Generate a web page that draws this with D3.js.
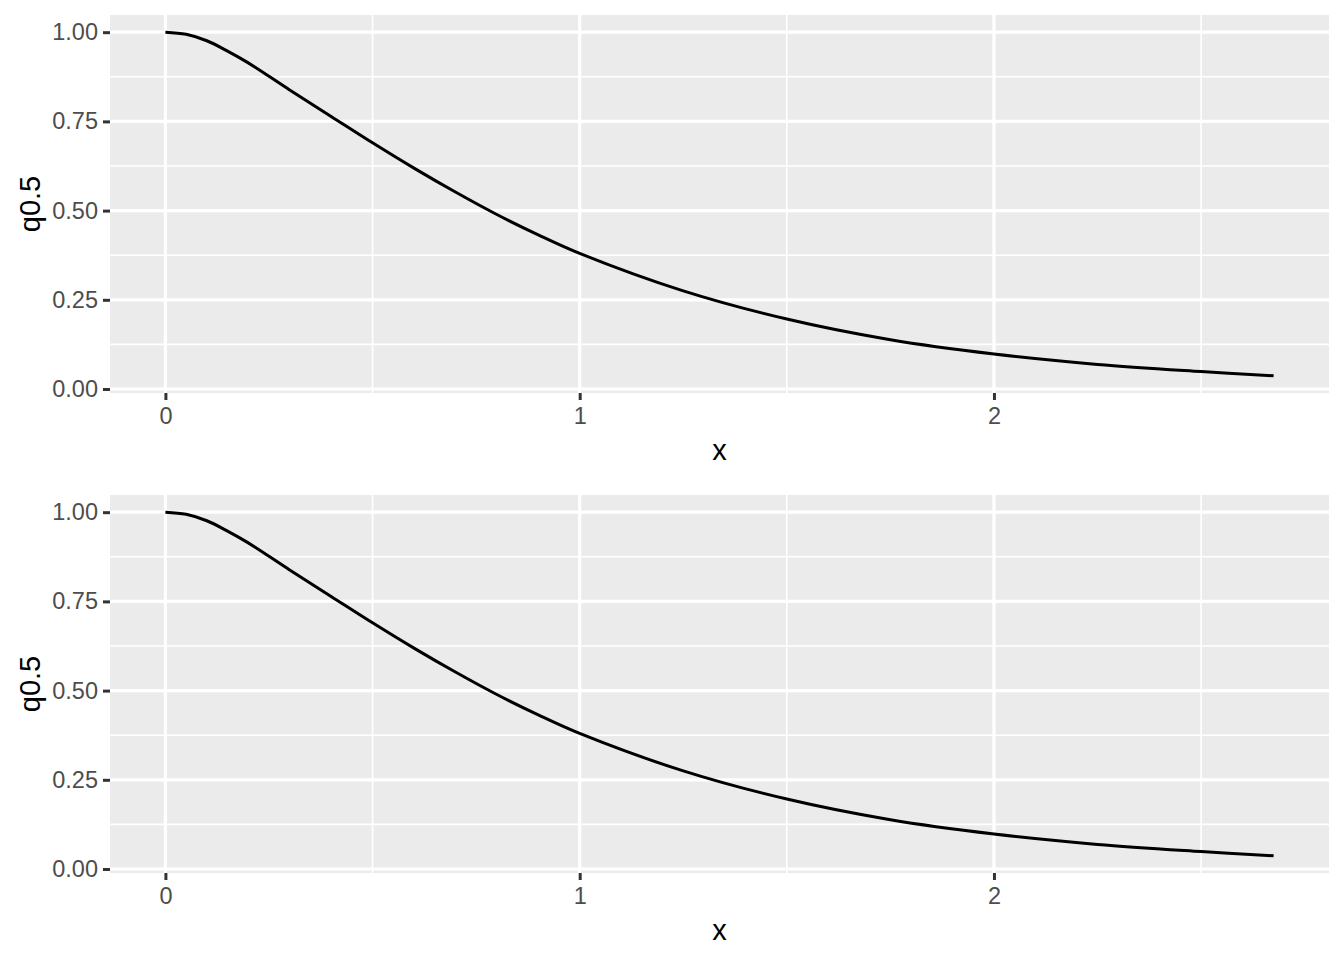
<!DOCTYPE html>
<html>
<head>
<meta charset="utf-8">
<script src="https://cdn.jsdelivr.net/npm/d3@7"></script>
<style>
  body { margin: 0; background: #fff; }
  svg { display: block; font-family: "Liberation Sans", Arial, sans-serif; }
</style>
</head>
<body>
<svg id="chart" width="1344" height="960"></svg>
<script>
// values
const xs = [0, 0.05, 0.1, 0.15, 0.2, 0.3, 0.4, 0.5, 0.6, 0.7, 0.8, 0.9, 1.0, 1.25, 1.5, 1.75, 2.0, 2.25, 2.5, 2.675];
const q05 = [1.0, 0.994, 0.976, 0.947, 0.914, 0.838, 0.764, 0.690, 0.619, 0.552, 0.489, 0.432, 0.380, 0.275, 0.196, 0.138, 0.098, 0.069, 0.049, 0.037];
const xTicks = [0, 1, 2];
const yTicks = [0, 0.25, 0.5, 0.75, 1.0];
const xMinor = [0.5, 1.5, 2.5];
const yMinor = [0.125, 0.375, 0.625, 0.875];

const data = xs.map((x, i) => ({x: x, y: q05[i]}));
const svg = d3.select("#chart");

function expand(ext) {
  const pad = (ext[1] - ext[0]) * 0.05;
  return [ext[0] - pad, ext[1] + pad];
}

function drawPanel(top) {
  const left = 110, right = 1329, h = 378;
  const x = d3.scaleLinear().domain(expand(d3.extent(xs))).range([left, right]);
  const y = d3.scaleLinear().domain(expand(d3.extent(q05))).range([top + h, top]);
  const g = svg.append("g");

  g.append("rect").attr("x", left).attr("y", top)
    .attr("width", right - left).attr("height", h).attr("fill", "#EBEBEB");

  // minor grid
  g.selectAll(".xmin").data(xMinor).enter().append("line")
    .attr("x1", d => x(d)).attr("x2", d => x(d)).attr("y1", top).attr("y2", top + h)
    .attr("stroke", "#fff").attr("stroke-width", 1.6);
  g.selectAll(".ymin").data(yMinor).enter().append("line")
    .attr("y1", d => y(d)).attr("y2", d => y(d)).attr("x1", left).attr("x2", right)
    .attr("stroke", "#fff").attr("stroke-width", 1.6);
  // major grid
  g.selectAll(".xmaj").data(xTicks).enter().append("line")
    .attr("x1", d => x(d)).attr("x2", d => x(d)).attr("y1", top).attr("y2", top + h)
    .attr("stroke", "#fff").attr("stroke-width", 3.2);
  g.selectAll(".ymaj").data(yTicks).enter().append("line")
    .attr("y1", d => y(d)).attr("y2", d => y(d)).attr("x1", left).attr("x2", right)
    .attr("stroke", "#fff").attr("stroke-width", 3.2);

  const line = d3.line().x(d => x(d.x)).y(d => y(d.y)).curve(d3.curveCatmullRom.alpha(0.5));
  g.append("path").datum(data).attr("d", line)
    .attr("fill", "none").attr("stroke", "#000").attr("stroke-width", 3);

  // axes
  const xAxis = g.append("g").attr("transform", "translate(0," + (top + h) + ")")
    .call(d3.axisBottom(x).tickValues(xTicks).tickFormat(d3.format("d")).tickSize(7).tickPadding(7));
  const yAxis = g.append("g").attr("transform", "translate(" + left + ",0)")
    .call(d3.axisLeft(y).tickValues(yTicks).tickFormat(d3.format(".2f")).tickSize(7).tickPadding(5));
  [xAxis, yAxis].forEach(a => {
    a.select(".domain").remove();
    a.selectAll(".tick line").attr("stroke", "#333").attr("stroke-width", 3);
    a.selectAll(".tick text").attr("fill", "#4D4D4D").style("font-size", "23.5px");
  });

  g.append("text").attr("x", (left + right) / 2).attr("y", top + h + 67)
    .attr("text-anchor", "middle").style("font-size", "29px").text("x");
  g.append("text").attr("transform", "translate(" + 40 + "," + (top + h / 2) + ") rotate(-90)")
    .attr("text-anchor", "middle").style("font-size", "29px").text("q0.5");
}

drawPanel(15);
drawPanel(495);
</script>
</body>
</html>
